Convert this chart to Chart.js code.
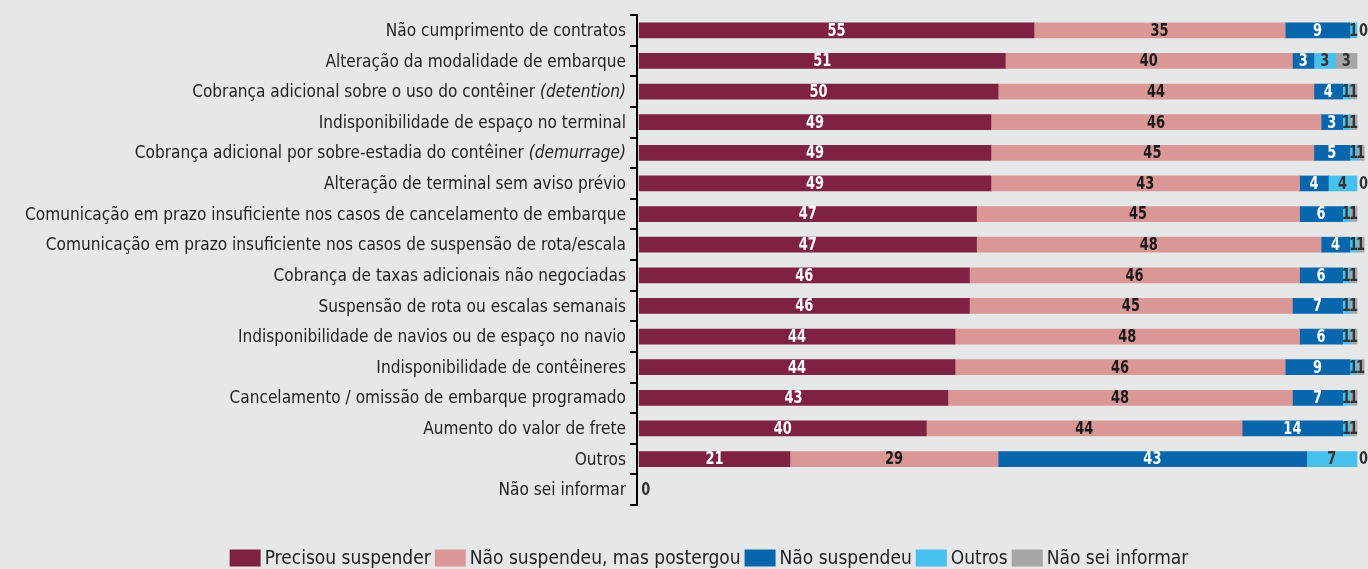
<!DOCTYPE html>
<html>
<head>
<meta charset="utf-8">
<script src="https://cdn.jsdelivr.net/npm/chart.js@4.4.1/dist/chart.umd.min.js"></script>
<style>
html,body{margin:0;padding:0;background:#e6e7e9;}
#wrap{width:1368px;height:569px;position:relative;}
</style>
</head>
<body>
<div id="wrap"><canvas id="c"></canvas></div>
<script>
const categories = [
  "Não cumprimento de contratos",
  "Alteração da modalidade de embarque",
  "Cobrança adicional sobre o uso do contêiner (detention)",
  "Indisponibilidade de espaço no terminal",
  "Cobrança adicional por sobre-estadia do contêiner (demurrage)",
  "Alteração de terminal sem aviso prévio",
  "Comunicação em prazo insuficiente nos casos de cancelamento de embarque",
  "Comunicação em prazo insuficiente nos casos de suspensão de rota/escala",
  "Cobrança de taxas adicionais não negociadas",
  "Suspensão de rota ou escalas semanais",
  "Indisponibilidade de navios ou de espaço no navio",
  "Indisponibilidade de contêineres",
  "Cancelamento / omissão de embarque programado",
  "Aumento do valor de frete",
  "Outros",
  "Não sei informar"
];
const seriesNames = ["Precisou suspender", "Não suspendeu, mas postergou", "Não suspendeu", "Outros", "Não sei informar"];
const precisouSuspender   = [55, 51, 50, 49, 49, 49, 47, 47, 46, 46, 44, 44, 43, 40, 21, 0];
const naoSuspMasPostergou = [35, 40, 44, 46, 45, 43, 45, 48, 46, 45, 48, 46, 48, 44, 29, 0];
const naoSuspendeu        = [9, 3, 4, 3, 5, 4, 6, 4, 6, 7, 6, 9, 7, 14, 43, 0];
const outros              = [1, 3, 1, 1, 1, 4, 1, 1, 1, 1, 1, 1, 1, 1, 7, 0];
const naoSeiInformar      = [0, 3, 1, 1, 1, 0, 1, 1, 1, 1, 1, 1, 1, 1, 0, 0];

const colors = ["#7f2142", "#da9795", "#0866ac", "#47c0ee", "#a6a6a6"];
const labelColors = ["#ffffff", "#1a1a1a", "#ffffff", "#333333", "#333333"];
const FONT = "'Liberation Sans Narrow','DejaVu Sans Condensed','Roboto Condensed',sans-serif";
const SX = 0.95;

const allSeries = [precisouSuspender, naoSuspMasPostergou, naoSuspendeu, outros, naoSeiInformar];

function drawScaledText(ctx, text, x, y, align, sx) {
  const w = ctx.measureText(text).width * sx;
  let left = x;
  if (align === 'right') left = x - w;
  else if (align === 'center') left = x - w / 2;
  ctx.save();
  ctx.translate(left, y);
  ctx.scale(sx, 1);
  ctx.textAlign = 'left';
  ctx.fillText(text, 0, 0);
  ctx.restore();
  return w;
}

const valueLabels = {
  id: 'valueLabels',
  afterDatasetsDraw(chart) {
    const ctx = chart.ctx;
    ctx.save();
    ctx.font = "bold 17px " + FONT;
    ctx.textBaseline = 'middle';
    const nD = chart.data.datasets.length;
    chart.data.datasets.forEach((ds, di) => {
      const meta = chart.getDatasetMeta(di);
      meta.data.forEach((bar, i) => {
        const v = ds.data[i];
        if (v === null || v === undefined) return;
        if (v === 0) {
          if (di !== nD - 1) return;
          ctx.fillStyle = '#333333';
          drawScaledText(ctx, '0', bar.x + 2, bar.y + 1, 'left', 0.85);
          return;
        }
        const cx = (bar.x + bar.base) / 2;
        ctx.fillStyle = labelColors[di];
        drawScaledText(ctx, String(v), cx, bar.y + 1, 'center', 0.85);
      });
    });
    ctx.restore();
  }
};

const catLabels = {
  id: 'catLabels',
  afterDraw(chart) {
    const ctx = chart.ctx;
    const y = chart.scales.y;
    ctx.save();
    ctx.textBaseline = 'middle';
    ctx.fillStyle = '#222222';
    const rightX = y.right - 11;
    const normalFont = "18px " + FONT;
    const italicFont = "italic 18px " + FONT;
    categories.forEach((lab, i) => {
      const py = y.getPixelForValue(i) + 1;
      const m = lab.match(/^(.*\s)(\([^)]*\))$/);
      if (m) {
        ctx.font = italicFont;
        const w2 = drawScaledText(ctx, m[2], rightX, py, 'right', SX);
        ctx.font = normalFont;
        drawScaledText(ctx, m[1], rightX - w2, py, 'right', SX);
      } else {
        ctx.font = normalFont;
        drawScaledText(ctx, lab, rightX, py, 'right', SX);
      }
    });

    // legend
    ctx.font = "20px " + FONT;
    const boxW = 31, boxH = 17, gapBT = 4, gapItem = 4;
    const widths = seriesNames.map(n => boxW + gapBT + ctx.measureText(n).width * SX);
    const total = widths.reduce((a, b) => a + b, 0) + gapItem * (seriesNames.length - 1);
    let lx = 709 - total / 2;
    const ly = 558;
    seriesNames.forEach((n, i) => {
      ctx.fillStyle = colors[i];
      ctx.fillRect(lx, ly - boxH / 2, boxW, boxH);
      ctx.fillStyle = '#222222';
      drawScaledText(ctx, n, lx + boxW + gapBT, ly + 1, 'left', SX);
      lx += widths[i] + gapItem;
    });
    ctx.restore();
  }
};

new Chart(document.getElementById('c'), {
  type: 'bar',
  data: {
    labels: categories,
    datasets: allSeries.map((d, i) => ({
      label: seriesNames[i],
      data: d,
      backgroundColor: (c) => (c.raw === 0 ? 'rgba(0,0,0,0)' : colors[i]),
      borderWidth: 0,
      barThickness: 15,
      clip: false
    }))
  },
  options: {
    indexAxis: 'y',
    responsive: true,
    maintainAspectRatio: false,
    animation: false,
    layout: { padding: { left: 0, right: 11, top: 15, bottom: 64 } },
    scales: {
      x: {
        stacked: true,
        display: false,
        min: -0.3,
        max: 100
      },
      y: {
        stacked: true,
        offset: true,
        ticks: { display: false },
        border: { display: true, color: '#000', width: 2 },
        grid: {
          offset: true,
          drawOnChartArea: false,
          drawTicks: true,
          tickLength: 7,
          color: '#000',
          lineWidth: 2
        },
        afterFit(scale) { scale.width = 637; }
      }
    },
    plugins: {
      legend: { display: false },
      tooltip: { enabled: false }
    }
  },
  plugins: [valueLabels, catLabels]
});
</script>
</body>
</html>
